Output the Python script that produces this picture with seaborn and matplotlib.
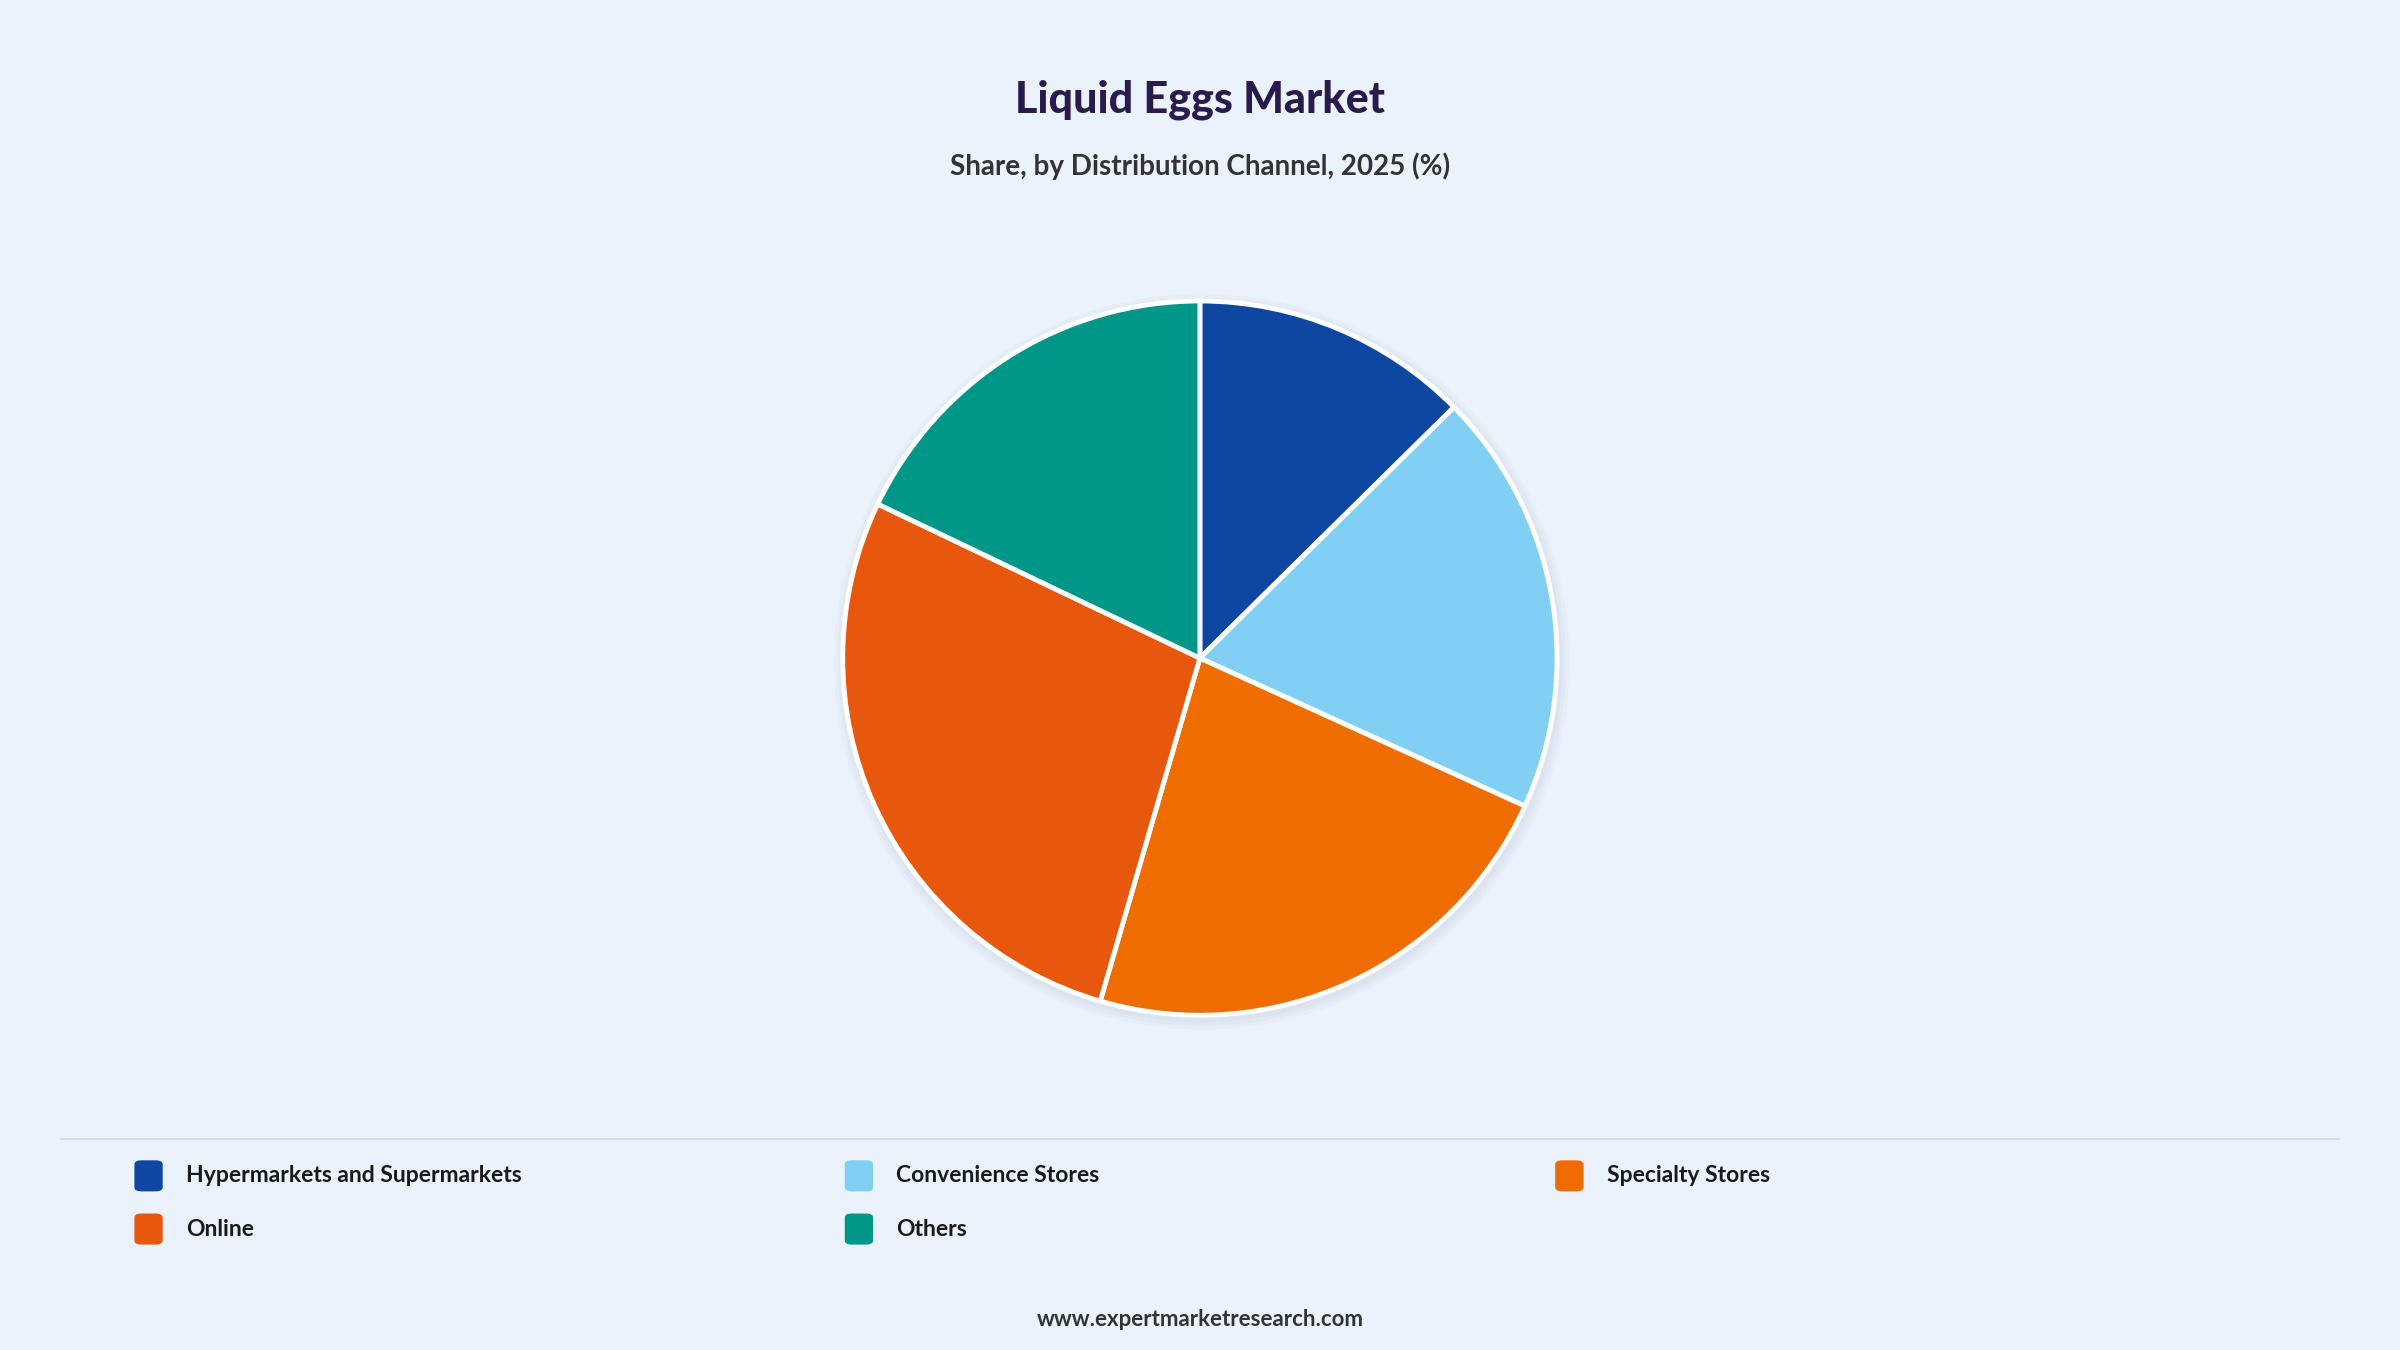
import matplotlib.pyplot as plt
import seaborn as sns
from matplotlib.patches import FancyBboxPatch, Circle
from matplotlib.lines import Line2D

sns.set_theme(style="white")
plt.rcParams['font.family'] = ['Lato', 'DejaVu Sans']

categories = ['Hypermarkets and Supermarkets', 'Convenience Stores',
              'Specialty Stores', 'Online', 'Others']
shares = [12.6, 19.2, 22.7, 27.6, 17.9]
colors = ['#0D47A1', '#81D0F3', '#EF6C00', '#E8570E', '#009688']
bg = '#EAF2FB'

fig = plt.figure(figsize=(24, 13.5), dpi=100, facecolor=bg)

# pie
ax = fig.add_axes([0.5 - 0.1563, 0.5125 - 0.278, 0.3125, 0.556])
ax.set_facecolor(bg)
for off, a in [(0.03, 0.05), (0.02, 0.06), (0.01, 0.08)]:
    ax.add_patch(Circle((0.005, -0.01), 1 + off, color='#9aa8b8', alpha=a, lw=0))
ax.pie(shares, colors=colors, startangle=90, counterclock=False,
       wedgeprops=dict(edgecolor='white', linewidth=3.5))
ax.set_xlim(-1.05, 1.05)
ax.set_ylim(-1.05, 1.05)
ax.set_aspect('equal')
ax.axis('off')

# titles
fig.text(0.5, 0.926, 'Liquid Eggs Market', ha='center', va='center',
         fontsize=31, fontweight='black', color='#2A1A4E')
fig.text(0.5, 0.877, 'Share, by Distribution Channel, 2025 (%)', ha='center',
         va='center', fontsize=20, fontweight='bold', color='#333333')

# legend
fig.add_artist(Line2D([0.0255, 0.9745], [0.156, 0.156], color='#d5dbe3', lw=1.5))
xs = [0.056, 0.352, 0.648, 0.056, 0.352]
ys = [0.129, 0.129, 0.129, 0.0896, 0.0896]
for name, c, x, y in zip(categories, colors, xs, ys):
    fig.add_artist(FancyBboxPatch((x, y - 0.0115), 0.0118, 0.023,
                                  boxstyle='round,pad=0,rounding_size=0.003',
                                  transform=fig.transFigure, color=c, lw=0))
    fig.text(x + 0.0215, y, name, ha='left', va='center', fontsize=16.5,
             fontweight='bold', color='#1a1a1a')

fig.text(0.5, 0.0227, 'www.expertmarketresearch.com', ha='center', va='center',
         fontsize=16, fontweight='bold', color='#333333')

fig.savefig('out.png', dpi=100, facecolor=bg)
